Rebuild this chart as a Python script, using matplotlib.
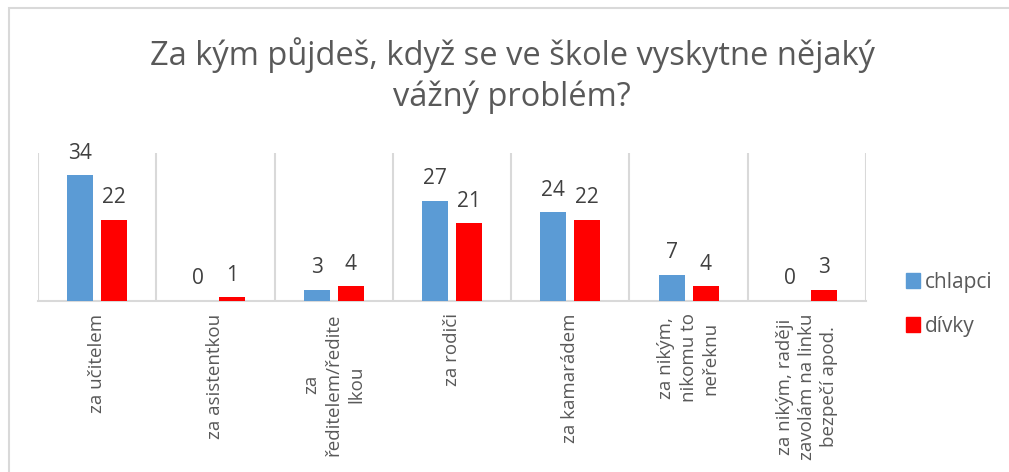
import numpy as np
import matplotlib
matplotlib.use("Agg")
import matplotlib.pyplot as plt
from matplotlib.patches import Rectangle, Patch

plt.rcParams["font.family"] = ["Open Sans", "DejaVu Sans"]

categories = [
    "za učitelem",
    "za asistentkou",
    "za\nředitelem/ředite\nlkou",
    "za rodiči",
    "za kamarádem",
    "za nikým,\nnikomu to\nneřeknu",
    "za nikým, raději\nzavolám na linku\nbezpečí apod.",
]
chlapci = [34, 0, 3, 27, 24, 7, 0]
divky = [22, 1, 4, 21, 22, 4, 3]
series_names = ["chlapci", "dívky"]
title = "Za kým půjdeš, když se ve škole vyskytne nějaký\nvážný problém?"

blue = "#5B9BD5"
red = "#FF0000"
grid_color = "#D9D9D9"

W, H = 1009, 472
fig = plt.figure(figsize=(W / 100, H / 100), dpi=100)
fig.patch.set_facecolor("white")

# chart border (only top and left visible in the crop)
fig.add_artist(Rectangle((9 / W, -0.1), 1.2, 1.1 - 8 / H, transform=fig.transFigure,
                         fill=False, edgecolor=grid_color, linewidth=1.5, clip_on=False))

ax = fig.add_axes([38 / W, 1 - 301 / H, (866 - 38) / W, (301 - 153) / H])

x = np.arange(len(categories))
bw = 0.22
off = 0.144
b1 = ax.bar(x - off, chlapci, bw, color=blue, zorder=3)
b2 = ax.bar(x + off, divky, bw, color=red, zorder=3)

for bars, vals in [(b1, chlapci), (b2, divky)]:
    for rect, v in zip(bars, vals):
        ax.annotate(str(v), (rect.get_x() + rect.get_width() / 2, v),
                    xytext=(0, 12), textcoords="offset points",
                    ha="center", va="baseline", fontsize=15, color="#404040")

ax.set_xlim(-0.5, len(categories) - 0.5)
ax.set_ylim(0, 40)
ax.set_yticks([])
ax.set_xticks(x)
ax.set_xticklabels(categories, rotation=90, multialignment="center",
                   fontsize=13.5, color="#595959", linespacing=1.3)
ax.tick_params(axis="x", length=0, pad=9)
ax.set_xticks(np.arange(-0.5, len(categories)), minor=True)
ax.tick_params(axis="x", which="minor", length=0)
ax.grid(True, axis="x", which="minor", color=grid_color, linewidth=1.5, zorder=0)
for s in ["top", "left", "right"]:
    ax.spines[s].set_visible(False)
ax.spines["bottom"].set_color(grid_color)
ax.spines["bottom"].set_linewidth(1.5)

fig.text(512 / W, 1 - 76 / H, title, ha="center", va="center",
         fontsize=23.5, color="#595959", linespacing=1.3)

handles = [Patch(color=blue), Patch(color=red)]
fig.legend(handles, series_names, loc="upper left", bbox_to_anchor=(887 / W, 1 - 253 / H),
           frameon=False, fontsize=15, labelcolor="#595959",
           handlelength=0.7, handleheight=0.7, handletextpad=0.2, labelspacing=1.1)

fig.savefig("out.png", dpi=100)
